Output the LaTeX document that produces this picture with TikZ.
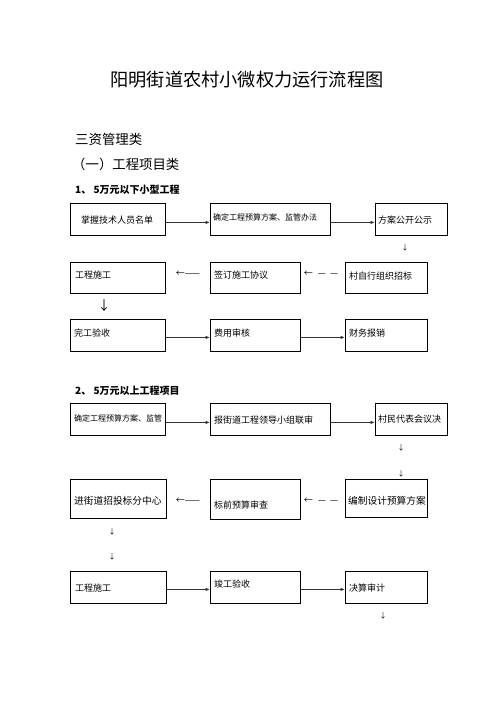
\documentclass[tikz,border=0pt]{standalone}
\usepackage{fontspec}
\setmainfont{Noto Sans CJK SC}
\usetikzlibrary{arrows.meta}
\begin{document}
\begin{tikzpicture}[x=1pt,y=-1pt,
  box/.style={draw=black,line width=0.8pt,rectangle,anchor=north west,inner sep=0pt},
  lbl/.style={anchor=west,inner sep=0pt,font=\fontsize{9}{10}\selectfont},
  slbl/.style={anchor=west,inner sep=0pt,font=\fontsize{8}{9}\selectfont},
  blbl/.style={anchor=west,inner sep=0pt,font=\fontsize{9.7}{10}\selectfont},
  arr/.style={line width=1pt,draw=black!80,-{Latex[length=4.5pt,width=3.5pt]}},
  glyph/.style={inner sep=0pt,font=\fontsize{9}{10}\selectfont},
  dn/.style={inner sep=0pt,font=\fontsize{7}{8}\selectfont},
  head/.style={anchor=west,inner sep=0pt,font=\fontsize{13.4}{15}\selectfont},
  sub/.style={anchor=west,inner sep=0pt,font=\fontsize{10}{12}\selectfont\bfseries}]
\useasboundingbox (0,0) rectangle (496,702);
\fill[white] (0,0) rectangle (496,702);
% titles
\node[inner sep=0pt,font=\fontsize{18.2}{20}\selectfont] (title) at (247,80) {阳明街道农村小微权力运行流程图};
\node[head] (h1) at (75,139) {三资管理类};
\node[head] (h2) at (72,164) {（一）工程项目类};
\node[sub] (s1) at (75,190) {1、 5万元以下小型工程};
% row 1
\node[box,minimum width=95pt,minimum height=32pt] (b1) at (70,203) {};
\node[box,minimum width=120pt,minimum height=32pt] (b2) at (210,203) {};
\node[box,minimum width=72pt,minimum height=32pt] (b3) at (375,203) {};
\node[lbl,anchor=center] (t1) at (117,220) {掌握技术人员名单};
\node[slbl] (t2) at (213,217) {确定工程预算方案、监管办法};
\node[lbl] (t3) at (378,220) {方案公开公示};
\draw[arr] ([yshift=-3pt]b1.east) -- ([yshift=-3pt]b2.west);
\draw[arr] ([yshift=-3pt]b2.east) -- ([yshift=-3pt]b3.west);
\node[dn] (d1) at (405,248) {↓};
% row 2
\node[box,minimum width=95pt,minimum height=31pt] (b4) at (70,262) {};
\node[box,minimum width=90pt,minimum height=31pt] (b5) at (210,262) {};
\node[box,minimum width=82pt,minimum height=31pt] (b6) at (345,262) {};
\node[lbl] (t4) at (75,275) {工程施工};
\node[lbl] (t5) at (214,275) {签订施工协议};
\node[lbl] (t6) at (349,276) {村自行组织招标};
\node[glyph] (g1) at (188,274) {←——};
\node[glyph] (g2) at (321,274) {←\hspace{5pt}—\hspace{4pt}—};
\node[inner sep=0pt,font=\fontsize{13}{14}\selectfont] (d2) at (104,306) {↓};
% row 3
\node[box,minimum width=95pt,minimum height=32pt] (b7) at (70,319) {};
\node[box,minimum width=90pt,minimum height=32pt] (b8) at (210,319) {};
\node[box,minimum width=82pt,minimum height=32pt] (b9) at (345,319) {};
\node[lbl] (t7) at (74,333) {完工验收};
\node[lbl] (t8) at (214,333) {费用审核};
\node[lbl] (t9) at (349,333) {财务报销};
\draw[arr] ([yshift=-2pt]b7.east) -- ([yshift=-2pt]b8.west);
\draw[arr] ([yshift=-2pt]b8.east) -- ([yshift=-2pt]b9.west);
% section 2
\node[sub] (s2) at (75,391) {2、 5万元以上工程项目};
% row 4
\node[box,minimum width=95pt,minimum height=32pt] (b10) at (70,403) {};
\node[box,minimum width=120pt,minimum height=32pt] (b11) at (210,403) {};
\node[box,minimum width=72pt,minimum height=32pt] (b12) at (375,403) {};
\node[slbl] (t10) at (74,418) {确定工程预算方案、监管};
\node[lbl] (t11) at (214,420) {报街道工程领导小组联审};
\node[lbl] (t12) at (378,419) {村民代表会议决};
\draw[arr] ([yshift=-3pt]b10.east) -- ([yshift=-3pt]b11.west);
\draw[arr] ([yshift=-3pt]b11.east) -- ([yshift=-3pt]b12.west);
\node[dn] (d3) at (401,448) {↓};
\node[dn] (d4) at (401,474) {↓};
% row 5
\node[box,minimum width=96pt,minimum height=39pt] (b13) at (70,479) {};
\node[box,minimum width=90pt,minimum height=40pt] (b14) at (210,479) {};
\node[box,minimum width=82pt,minimum height=38pt] (b15) at (345,479) {};
\node[blbl] (t13) at (74,501) {进街道招投标分中心};
\node[lbl] (t14) at (214,505) {标前预算审查};
\node[blbl] (t15) at (348,501) {编制设计预算方案};
\node[glyph] (g3) at (188,501) {←——};
\node[glyph] (g4) at (321,501) {←\hspace{5pt}—\hspace{4pt}—};
\node[dn] (d5) at (112,532) {↓};
\node[dn] (d6) at (112,557) {↓};
% row 6
\node[box,minimum width=96pt,minimum height=32pt] (b16) at (70,571) {};
\node[box,minimum width=90pt,minimum height=32pt] (b17) at (210,571) {};
\node[box,minimum width=82pt,minimum height=32pt] (b18) at (345,571) {};
\node[lbl] (t16) at (75,588) {工程施工};
\node[lbl] (t17) at (214,584) {竣工验收};
\node[lbl] (t18) at (349,588) {决算审计};
\draw[arr] ([yshift=-2pt]b16.east) -- ([yshift=-2pt]b17.west);
\draw[arr] ([yshift=-2pt]b17.east) -- ([yshift=-2pt]b18.west);
\node[dn] (d7) at (383,616) {↓};
\end{tikzpicture}
\end{document}
